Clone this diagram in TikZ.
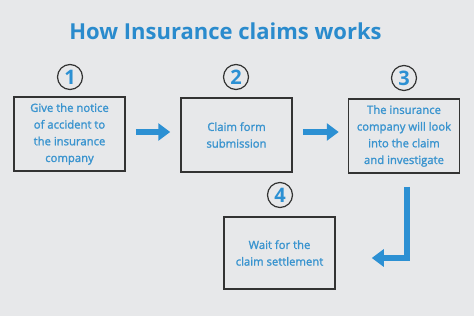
\documentclass[tikz,border=0pt]{standalone}
\usepackage{fontspec}
\setmainfont{Open Sans}
\newfontfamily\semib[FakeBold=1.6]{Open Sans}
\usetikzlibrary{arrows.meta,calc}
\definecolor{bg}{HTML}{E7E8EA}
\definecolor{titleblue}{HTML}{2A8BCD}
\definecolor{txtblue}{HTML}{3A94CF}
\definecolor{arrblue}{HTML}{2C90D3}
\definecolor{boxline}{HTML}{333333}
\tikzset{
  stepbox/.style={draw=boxline, line width=1.5pt, minimum width=111pt, minimum height=74pt,
    align=center, text=txtblue, font=\semib\fontsize{11.3}{16.7}\selectfont, inner sep=0pt},
  numcirc/.style={circle, draw=boxline, line width=1.2pt, minimum size=25pt, inner sep=0pt,
    text=arrblue, font=\fontsize{20}{20}\selectfont\bfseries},
  bigarrow/.style={draw=arrblue, line width=6pt, line join=miter,
    -{Triangle[width=17pt,length=12pt]}, arrblue}
}
\begin{document}
\begin{tikzpicture}[x=1pt,y=-1pt]
\fill[bg] (0,0) rectangle (474,316);
\useasboundingbox (0,0) rectangle (474,316);
\node[text=titleblue, font=\fontsize{22}{22}\selectfont\bfseries] (title) at (225.5,31) {How Insurance claims works};

\node[stepbox] (b1) at (69.5,134) {Give the notice\\of accident to\\the insurance\\company};
\node[stepbox] (b2) at (236.5,135) {Claim form\\submission};
\node[stepbox] (b3) at (404,136) {The insurance\\company will look\\into the claim\\and investigate};
\node[stepbox, minimum height=72pt] (b4) at (279.5,253) {Wait for the\\claim settlement};

\node[numcirc] (n1) at (70,77) {1};
\node[numcirc] (n2) at (236,77) {2};
\node[numcirc] (n3) at (404,78) {3};
\node[numcirc] (n4) at (280,195) {4};

\draw[bigarrow, shorten <=10pt, shorten >=10pt] (b1.east |- 0,132) -- (b2.west |- 0,132);
\draw[bigarrow, shorten <=10pt, shorten >=9pt] (b2.east |- 0,132) -- (b3.west |- 0,132);
\coordinate (c) at (407,258);
\draw[bigarrow, shorten >=36pt] (c |- b3.south) ++(0,13) -- (c) -- (c -| b4.east);
\end{tikzpicture}
\end{document}
